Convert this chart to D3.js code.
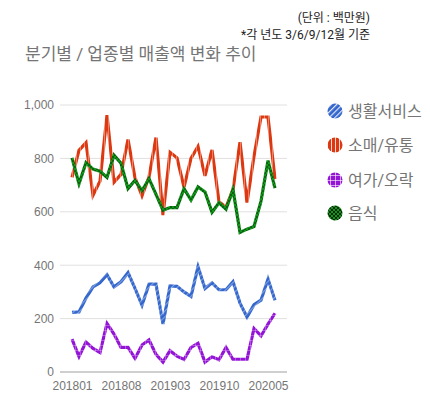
<!DOCTYPE html>
<html lang="ko">
  <head>
    <meta charset="UTF-8" />
    <title>분기별 / 업종별 매출액 변화 추이</title>
    <script src="https://cdnjs.cloudflare.com/ajax/libs/d3/7.8.5/d3.min.js"></script>
    <style>
      body {
        margin: 0;
        background: #fff;
        font-family: Roboto, 'Noto Sans CJK KR', sans-serif;
      }
      .tick text {
        font-size: 12px;
        fill: #757575;
      }
      .grid line {
        stroke: #e0e0e0;
      }
    </style>
  </head>
  <body>
    <svg width="430" height="400"></svg>
    <script>
      // months 201801 .. 202006
      const months = [
        '201801', '201802', '201803', '201804', '201805', '201806', '201807', '201808',
        '201809', '201810', '201811', '201812', '201901', '201902', '201903', '201904',
        '201905', '201906', '201907', '201908', '201909', '201910', '201911', '201912',
        '202001', '202002', '202003', '202004', '202005', '202006',
      ];
      const xTickLabels = ['201801', '201808', '201903', '201910', '202005'];
      const yTicks = [0, 200, 400, 600, 800, 1000];

      const seriesNames = ['생활서비스', '소매/유통', '여가/오락', '음식'];

      const lifeService = [
        223, 225, 277, 319, 334, 364, 319, 338, 372, 313, 250, 329, 329, 180, 322,
        321, 300, 283, 394, 313, 334, 308, 308, 338, 258, 206, 252, 269, 348, 269,
      ];
      const retail = [
        729, 830, 859, 662, 715, 962, 711, 740, 871, 727, 660, 730, 878, 588, 823,
        802, 692, 800, 845, 735, 832, 638, 617, 684, 861, 635, 808, 955, 955, 723,
      ];
      const leisure = [
        123, 58, 112, 88, 73, 182, 142, 92, 92, 51, 101, 120, 66, 37, 80,
        59, 47, 92, 107, 37, 57, 46, 92, 47, 47, 47, 163, 135, 179, 220,
      ];
      const food = [
        802, 705, 784, 760, 752, 729, 812, 782, 687, 718, 679, 724, 665, 606, 616,
        616, 687, 644, 693, 674, 598, 634, 610, 683, 523, 535, 545, 640, 792, 689,
      ];

      const values = [lifeService, retail, leisure, food];

      const svg = d3.select('svg');
      const defs = svg.append('defs');

      // textured fills: strong for the legend markers, faint for the lines
      function makePatterns(prefix, k) {
        const pBlue = defs.append('pattern').attr('id', prefix + 0)
          .attr('patternUnits', 'userSpaceOnUse').attr('width', 4).attr('height', 4)
          .attr('patternTransform', 'rotate(45)');
        pBlue.append('rect').attr('width', 4).attr('height', 4).attr('fill', '#3366cc');
        pBlue.append('rect').attr('width', 1.2).attr('height', 4).attr('fill', '#fff').attr('opacity', 0.85 * k);

        const pRed = defs.append('pattern').attr('id', prefix + 1)
          .attr('patternUnits', 'userSpaceOnUse').attr('width', 4).attr('height', 4);
        pRed.append('rect').attr('width', 4).attr('height', 4).attr('fill', '#dc3912');
        pRed.append('rect').attr('width', 1).attr('height', 4).attr('fill', '#fff').attr('opacity', 0.8 * k);

        const pPurple = defs.append('pattern').attr('id', prefix + 2)
          .attr('patternUnits', 'userSpaceOnUse').attr('width', 5).attr('height', 5);
        pPurple.append('rect').attr('width', 5).attr('height', 5).attr('fill', '#9414d6');
        pPurple.append('rect').attr('width', 1).attr('height', 5).attr('fill', '#fff').attr('opacity', 0.6 * k);
        pPurple.append('rect').attr('width', 5).attr('height', 1).attr('fill', '#fff').attr('opacity', 0.6 * k);

        const pGreen = defs.append('pattern').attr('id', prefix + 3)
          .attr('patternUnits', 'userSpaceOnUse').attr('width', 4).attr('height', 4);
        pGreen.append('rect').attr('width', 4).attr('height', 4).attr('fill', '#109618');
        pGreen.append('rect').attr('width', 2).attr('height', 2).attr('fill', '#062806').attr('opacity', k);
        pGreen.append('rect').attr('x', 2).attr('y', 2).attr('width', 2).attr('height', 2)
          .attr('fill', '#062806').attr('opacity', k);
      }
      makePatterns('p', 1);
      makePatterns('lp', 0.45);

      // scales
      const x = d3.scalePoint().domain(months).range([72, 275]);
      const y = d3.scaleLinear().domain([0, 1000]).range([372, 105]);

      // gridlines
      svg.append('g')
        .attr('class', 'grid')
        .selectAll('line')
        .data(yTicks.filter(d => d > 0))
        .join('line')
        .attr('x1', 60).attr('x2', 287)
        .attr('y1', d => y(d)).attr('y2', d => y(d));

      // y axis labels
      const yAxis = svg.append('g')
        .attr('transform', 'translate(60,0)')
        .call(d3.axisLeft(y).tickValues(yTicks).tickSize(0).tickPadding(6).tickFormat(d3.format(',')));
      yAxis.select('.domain').remove();

      // x axis
      const xAxis = svg.append('g')
        .attr('transform', 'translate(0,372)')
        .call(d3.axisBottom(x).tickValues(xTickLabels).tickSize(0).tickPadding(9));
      xAxis.select('.domain').remove();
      svg.append('line')
        .attr('x1', 60).attr('x2', 287)
        .attr('y1', y(0)).attr('y2', y(0))
        .attr('stroke', '#9e9e9e');

      // lines
      const line = d3.line()
        .x((d, i) => x(months[i]))
        .y(d => y(d));

      svg.append('g')
        .selectAll('path')
        .data(values)
        .join('path')
        .attr('fill', 'none')
        .attr('stroke', (d, i) => `url(#lp${i})`)
        .attr('stroke-width', 3.2)
        .attr('d', line);

      // legend
      const legend = svg.append('g')
        .selectAll('g')
        .data(seriesNames)
        .join('g')
        .attr('transform', (d, i) => `translate(335,${[111, 145, 180, 213][i]})`);
      legend.append('circle')
        .attr('r', 7.5)
        .attr('fill', (d, i) => `url(#p${i})`);
      legend.append('text')
        .attr('x', 13)
        .attr('dy', '0.35em')
        .attr('font-size', 16)
        .attr('fill', '#757575')
        .text(d => d);

      // titles
      svg.append('text')
        .attr('x', 25).attr('y', 60)
        .attr('font-size', 17)
        .attr('fill', '#757575')
        .text('분기별 / 업종별 매출액 변화 추이');

      svg.append('text')
        .attr('x', 370).attr('y', 22)
        .attr('text-anchor', 'end')
        .attr('font-size', 12)
        .attr('fill', '#222')
        .text('(단위 : 백만원)');

      svg.append('text')
        .attr('x', 370).attr('y', 39)
        .attr('text-anchor', 'end')
        .attr('font-size', 12)
        .attr('fill', '#222')
        .text('*각 년도 3/6/9/12월 기준');
    </script>
  </body>
</html>
